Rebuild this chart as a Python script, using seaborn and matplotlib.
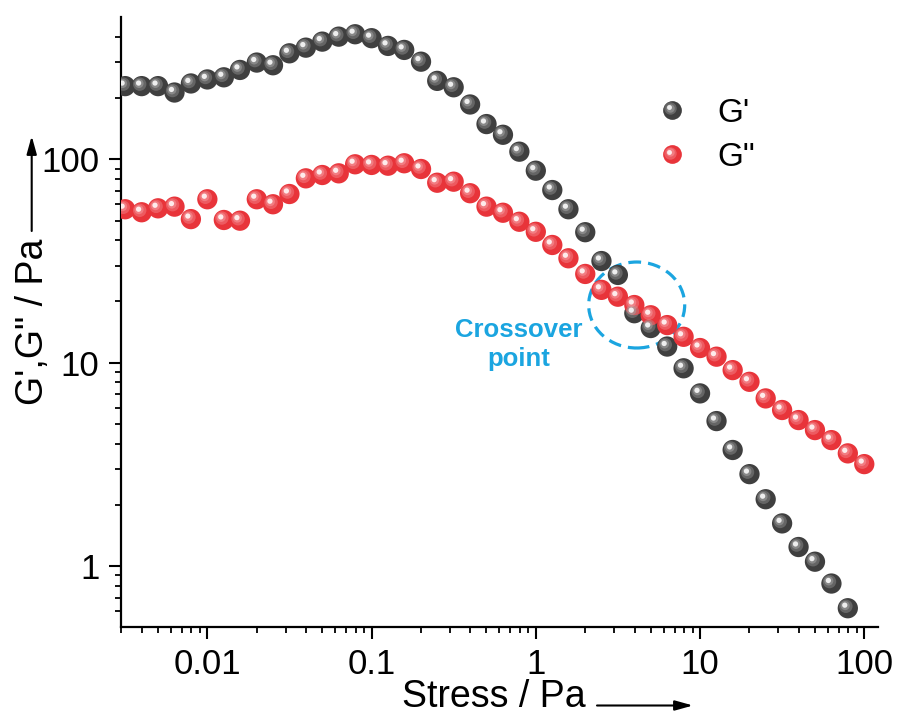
import numpy as np
import pandas as pd
import matplotlib
matplotlib.use("Agg")
import matplotlib.pyplot as plt
from matplotlib.lines import Line2D
from matplotlib.legend_handler import HandlerTuple, HandlerLine2D
from matplotlib.patches import Ellipse
from matplotlib.transforms import ScaledTranslation
import seaborn as sns

# ---------------- data ----------------
stress_g1 = [0.00316, 0.00398, 0.00501, 0.00631, 0.00794, 0.01, 0.0126, 0.0158, 0.02, 0.0251,
             0.0316, 0.0398, 0.0501, 0.0631, 0.0794, 0.1, 0.126, 0.158, 0.2, 0.251,
             0.316, 0.398, 0.501, 0.631, 0.794, 1.0, 1.26, 1.58, 2.0, 2.51,
             3.16, 3.98, 5.01, 6.31, 7.94, 10.0, 12.6, 15.8, 20.0, 25.1,
             31.6, 39.8, 50.1, 63.1, 79.4]
g_storage = [229, 229, 229, 213, 236, 247, 253, 275, 299, 290,
             332, 354, 379, 401, 412, 394, 361, 345, 302, 243,
             226, 186, 149, 132, 109, 87.9, 70.6, 56.8, 43.8, 31.6,
             27.0, 17.5, 14.8, 12.0, 9.38, 7.06, 5.16, 3.72, 2.83, 2.13,
             1.62, 1.24, 1.05, 0.82, 0.62]

stress_g2 = stress_g1 + [100.0]
g_loss = [56.8, 54.9, 57.4, 58.5, 50.8, 63.6, 50.3, 49.9, 63.6, 60.1,
          67.5, 80.6, 83.7, 85.3, 94.5, 93.8, 93.0, 95.6, 89.6, 76.7,
          77.6, 68.1, 58.5, 54.6, 49.3, 44.0, 37.9, 32.6, 27.3, 22.8,
          21.1, 19.2, 17.1, 15.3, 13.4, 11.8, 10.7, 9.19, 8.05, 6.67,
          5.85, 5.22, 4.66, 4.16, 3.58, 3.17]

series_labels = ["G'", 'G"']
x_ticks = [0.01, 0.1, 1, 10, 100]
x_ticklabels = ["0.01", "0.1", "1", "10", "100"]
y_ticks = [1, 10, 100]
y_ticklabels = ["1", "10", "100"]

df = pd.concat([
    pd.DataFrame({"stress": stress_g1, "modulus": g_storage, "series": series_labels[0]}),
    pd.DataFrame({"stress": stress_g2, "modulus": g_loss, "series": series_labels[1]}),
], ignore_index=True)

# ---------------- style ----------------
sns.set_theme(style="ticks")
plt.rcParams["font.family"] = ["Liberation Sans", "DejaVu Sans"]
plt.rcParams["text.color"] = "black"
plt.rcParams["axes.labelcolor"] = "black"
plt.rcParams["xtick.color"] = "black"
plt.rcParams["ytick.color"] = "black"

body_colors = {series_labels[0]: "#3f3f3f", series_labels[1]: "#e8343a"}
mid_colors = {series_labels[0]: "#a0a0a0", series_labels[1]: "#f7959a"}
spec_colors = {series_labels[0]: "#f4f4f4", series_labels[1]: "#fff2f2"}

msize = 14.6  # marker diameter in points
# layers: (diameter factor, offset in points (dx, dy), colours, alpha)
layers = [
    (1.00, (0.0, 0.0), body_colors, 1.0),
    (0.66, (-1.4, 1.4), mid_colors, 0.40),
    (0.45, (-1.9, 1.9), mid_colors, 0.60),
    (0.26, (-2.2, 2.2), spec_colors, 0.95),
]

fig = plt.figure(figsize=(8.99, 7.22), dpi=100)
ax = fig.add_axes([0.1346, 0.132, 0.8417, 0.844])

for fac, (dx, dy), cmap, alpha in layers:
    tr = ax.transData + ScaledTranslation(dx / 72, dy / 72, fig.dpi_scale_trans)
    sns.scatterplot(data=df, x="stress", y="modulus", hue="series",
                    palette=cmap, marker="o", s=(msize * fac) ** 2,
                    linewidth=0, edgecolor="none", alpha=alpha,
                    legend=False, ax=ax, transform=tr, zorder=3)

ax.set_xscale("log")
ax.set_yscale("log")
ax.set_xlim(0.00298, 120.7)
ax.set_ylim(0.503, 499)
ax.set_xticks(x_ticks)
ax.set_xticklabels(x_ticklabels)
ax.set_yticks(y_ticks)
ax.set_yticklabels(y_ticklabels)
ax.xaxis.set_minor_locator(matplotlib.ticker.LogLocator(base=10, subs=np.arange(2, 10)))
ax.yaxis.set_minor_locator(matplotlib.ticker.LogLocator(base=10, subs=np.arange(2, 10)))
ax.xaxis.set_minor_formatter(matplotlib.ticker.NullFormatter())
ax.yaxis.set_minor_formatter(matplotlib.ticker.NullFormatter())

for s in ["top", "right"]:
    ax.spines[s].set_visible(False)
for s in ["left", "bottom"]:
    ax.spines[s].set_linewidth(1.6)
    ax.spines[s].set_color("black")

ax.tick_params(axis="both", which="major", direction="out", length=8.5, width=1.5,
               labelsize=25, colors="black", pad=7)
ax.tick_params(axis="both", which="minor", direction="out", length=4, width=1.3,
               colors="black")
ax.grid(False)

ax.set_xlabel("Stress / Pa", fontsize=27, color="black")
ax.set_ylabel('G\',G" / Pa', fontsize=27, color="black")
# place axis titles (label coordinates in axes fraction)
ax.xaxis.set_label_coords((494 - 121) / 756.7, (626.7 - 706.7) / 609.4)
ax.xaxis.label.set_va("baseline")
ax.yaxis.set_label_coords((51 - 121) / 756.7, (626.7 - 322) / 609.4)

# arrows following the axis titles
ax.annotate("", xy=(693 / 899, 1 - 705.5 / 722), xytext=(597 / 899, 1 - 705.5 / 722),
            xycoords="figure fraction", textcoords="figure fraction",
            arrowprops=dict(arrowstyle="-|>,head_length=0.9,head_width=0.25",
                            color="black", lw=1.5, shrinkA=0, shrinkB=0))
ax.annotate("", xy=(31.7 / 899, 1 - 136 / 722), xytext=(31.7 / 899, 1 - 231 / 722),
            xycoords="figure fraction", textcoords="figure fraction",
            arrowprops=dict(arrowstyle="-|>,head_length=0.9,head_width=0.25",
                            color="black", lw=1.5, shrinkA=0, shrinkB=0))


# legend with shaded spheres
class OffsetLineHandler(HandlerLine2D):
    def __init__(self, dx, dy, **kw):
        super().__init__(**kw)
        self.dx, self.dy = dx, dy

    def create_artists(self, legend, orig_handle, xdescent, ydescent, width, height,
                       fontsize, trans):
        arts = super().create_artists(legend, orig_handle, xdescent, ydescent, width,
                                      height, fontsize, trans)
        off = ScaledTranslation(self.dx / 72, self.dy / 72, legend.figure.dpi_scale_trans)
        for a in arts:
            a.set_transform(trans + off)
        return arts


handles = []
hmap = {}
lsize = 13.5
for lab in series_labels:
    parts = []
    for fac, (dx, dy), cmap, alpha in layers:
        ln = Line2D([], [], ls="", marker="o", markersize=lsize * fac,
                    markerfacecolor=cmap[lab], markeredgewidth=0, alpha=alpha)
        hmap[ln] = OffsetLineHandler(dx * lsize / msize, dy * lsize / msize)
        parts.append(ln)
    handles.append(tuple(parts))
hmap[tuple] = HandlerTuple(ndivide=1, pad=0)
ax.legend(handles, series_labels, handler_map=hmap,
          frameon=False, fontsize=24, loc="upper left", bbox_to_anchor=(0.7105, 0.868),
          borderpad=0, borderaxespad=0, handlelength=0.8, handletextpad=0.95,
          labelspacing=0.4)

# crossover annotation
blue = "#1ba5e0"
ax.add_patch(Ellipse((0.6815, 0.5279), 0.1269, 0.1411, transform=ax.transAxes,
                     fill=False, edgecolor=blue, lw=2.3, linestyle=(0, (4, 2.2)),
                     zorder=2))
ax.text(0.5253, 0.463, "Crossover\npoint", transform=ax.transAxes, ha="center",
        va="center", multialignment="center", fontsize=18.5, fontweight="bold",
        color=blue, linespacing=1.22)

fig.savefig("out.png", dpi=100)
